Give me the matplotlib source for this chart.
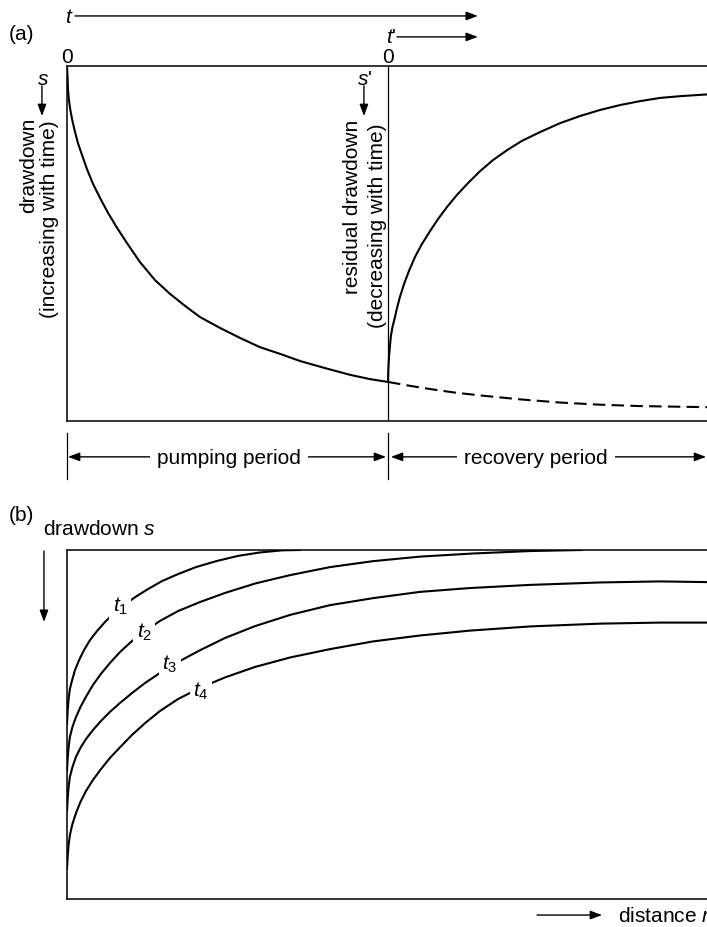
import matplotlib.pyplot as plt

plt.rcParams['font.family'] = ['Liberation Sans', 'DejaVu Sans']
plt.rcParams['mathtext.fontset'] = 'custom'
plt.rcParams['mathtext.rm'] = 'Liberation Sans'
plt.rcParams['mathtext.it'] = 'Liberation Sans:italic'

W, H = 707, 928
FS = 15

# (a) drawdown while pumping; time in units of the pumping period, s normalised
t_pump = [0.0, 0.002, 0.003, 0.006, 0.011, 0.017, 0.025, 0.034, 0.047,
          0.062, 0.081, 0.103, 0.128, 0.156, 0.187, 0.227, 0.274, 0.321,
          0.368, 0.414, 0.477, 0.539, 0.601, 0.664, 0.726, 0.804, 0.882,
          0.944, 1.0]
s_pump = [0.0, 0.037, 0.065, 0.096, 0.127, 0.155, 0.186, 0.217, 0.251,
          0.290, 0.332, 0.372, 0.414, 0.456, 0.499, 0.552, 0.603, 0.642,
          0.676, 0.707, 0.738, 0.766, 0.792, 0.811, 0.831, 0.851, 0.870,
          0.882, 0.890]

# drawdown had the pump kept running
t_cont = [1.0, 1.069, 1.131, 1.209, 1.287, 1.411, 1.536, 1.660, 1.785,
          1.994, 2.05]
s_cont = [0.890, 0.901, 0.910, 0.920, 0.928, 0.939, 0.948, 0.954, 0.958,
          0.961, 0.961]

# residual drawdown after the pump stops, t' counted from the stop
t_rec = [0.0, 0.001, 0.003, 0.006, 0.009, 0.014, 0.021, 0.028, 0.037,
         0.050, 0.065, 0.084, 0.106, 0.131, 0.156, 0.184, 0.215, 0.249,
         0.287, 0.327, 0.371, 0.417, 0.474, 0.536, 0.598, 0.660, 0.723,
         0.785, 0.847, 0.910, 0.994, 1.050]
s_rec = [0.890, 0.854, 0.820, 0.789, 0.761, 0.735, 0.710, 0.682, 0.651,
         0.614, 0.578, 0.538, 0.501, 0.465, 0.431, 0.397, 0.363, 0.330,
         0.296, 0.265, 0.237, 0.211, 0.186, 0.161, 0.141, 0.124, 0.110,
         0.099, 0.090, 0.085, 0.080, 0.079]

# (b) drawdown against distance at four times t1 < t2 < t3 < t4
r_t1 = [0.0, 0.002, 0.005, 0.009, 0.016, 0.025, 0.038, 0.053, 0.072,
        0.094, 0.119, 0.147, 0.178, 0.213, 0.253, 0.297, 0.347, 0.403,
        0.466, 0.534, 0.603, 0.672, 0.728]
s_t1 = [0.499, 0.461, 0.427, 0.398, 0.373, 0.344, 0.315, 0.287, 0.258,
        0.232, 0.206, 0.181, 0.158, 0.135, 0.112, 0.089, 0.069, 0.049,
        0.032, 0.017, 0.007, 0.001, 0.0]

r_t2 = [0.0, 0.002, 0.005, 0.009, 0.017, 0.028, 0.042, 0.059, 0.081,
        0.106, 0.134, 0.166, 0.203, 0.244, 0.291, 0.347, 0.416, 0.494,
        0.588, 0.697, 0.822, 0.956, 1.103, 1.269, 1.447, 1.609]
s_t2 = [0.633, 0.599, 0.565, 0.536, 0.507, 0.479, 0.450, 0.421, 0.387,
        0.355, 0.324, 0.292, 0.261, 0.232, 0.203, 0.175, 0.149, 0.123,
        0.096, 0.072, 0.049, 0.032, 0.019, 0.010, 0.003, 0.0]

r_t3 = [0.0, 0.002, 0.005, 0.009, 0.017, 0.028, 0.042, 0.059, 0.081,
        0.106, 0.134, 0.166, 0.203, 0.244, 0.291, 0.347, 0.416, 0.494,
        0.588, 0.697, 0.822, 0.956, 1.103, 1.259, 1.447, 1.666, 1.853,
        2.0, 2.056]
s_t3 = [0.748, 0.714, 0.679, 0.650, 0.622, 0.593, 0.567, 0.542, 0.516,
        0.490, 0.464, 0.438, 0.410, 0.381, 0.352, 0.321, 0.287, 0.252,
        0.218, 0.186, 0.158, 0.138, 0.120, 0.109, 0.100, 0.093, 0.090,
        0.092, 0.092]

r_t4 = [0.0, 0.002, 0.005, 0.009, 0.017, 0.028, 0.042, 0.059, 0.081,
        0.106, 0.134, 0.166, 0.203, 0.244, 0.291, 0.347, 0.416, 0.494,
        0.588, 0.697, 0.822, 0.956, 1.103, 1.259, 1.447, 1.666, 1.853,
        2.0, 2.056]
s_t4 = [0.914, 0.880, 0.845, 0.817, 0.785, 0.754, 0.722, 0.691, 0.659,
        0.628, 0.596, 0.565, 0.530, 0.496, 0.461, 0.427, 0.395, 0.365,
        0.335, 0.308, 0.284, 0.262, 0.245, 0.231, 0.219, 0.211, 0.208,
        0.208, 0.209]

curve_names = ['$t_1$', '$t_2$', '$t_3$', '$t_4$']
name_r = [0.166, 0.241, 0.322, 0.419]
name_s = [0.160, 0.232, 0.324, 0.401]


def arrow(ax, start, end, lw=1.0):
    ax.annotate('', xy=end, xytext=start, annotation_clip=False,
                arrowprops=dict(arrowstyle='-|>,head_length=0.35,head_width=0.13',
                                mutation_scale=20, lw=lw, color='k',
                                shrinkA=0, shrinkB=0))


def frame(ax):
    ax.set_xticks([])
    ax.set_yticks([])
    ax.spines['right'].set_visible(False)
    for side in ['top', 'left', 'bottom']:
        ax.spines[side].set_linewidth(1.1)


fig = plt.figure(figsize=(W / 100, H / 100), dpi=100)

# ---- (a) pumping and recovery ----
ax_a = fig.add_axes([67 / W, 1 - 422 / H, (710 - 67) / W, 355 / H])
ax_a.set_xlim(0, (710 - 67) / 321)
ax_a.set_ylim(1, 0)
frame(ax_a)

t_stop = t_pump[-1]
ax_a.plot(t_pump, s_pump, color='k', lw=1.5)
ax_a.plot(t_cont, s_cont, color='k', lw=1.5, dashes=(6, 3))
ax_a.plot([t_stop + t for t in t_rec], s_rec, color='k', lw=1.5)
ax_a.axvline(t_stop, color='k', lw=0.9)

fig.text(21 / W, 1 - 35 / H, '(a)', fontsize=FS, ha='center', va='center')

# time axes above the frame
ax_a.text(0.006, -0.124, '$t$', fontsize=FS, ha='center', va='baseline')
arrow(ax_a, (0.025, -0.141), (1.280, -0.141))
ax_a.text(t_stop + 0.009, -0.068, "$t$'", fontsize=FS, ha='center', va='baseline')
arrow(ax_a, (t_stop + 0.028, -0.082), (1.280, -0.082))
ax_a.text(0.0, -0.011, '0', fontsize=FS, ha='center', va='baseline')
ax_a.text(t_stop, -0.011, '0', fontsize=FS, ha='center', va='baseline')

# drawdown labels
ax_a.text(-0.075, 0.051, '$s$', fontsize=FS, ha='center', va='baseline')
arrow(ax_a, (-0.078, 0.056), (-0.078, 0.141))
ax_a.text(-0.121, 0.144, 'drawdown', fontsize=FS, rotation=90,
          ha='center', va='top')
ax_a.text(-0.053, 0.149, '(increasing with time)', fontsize=FS, rotation=90,
          ha='center', va='top')

ax_a.text(0.928, 0.051, "$s$'", fontsize=FS, ha='center', va='baseline')
arrow(ax_a, (0.925, 0.056), (0.925, 0.141))
ax_a.text(0.888, 0.149, 'residual drawdown', fontsize=FS, rotation=90,
          ha='center', va='top')
ax_a.text(0.966, 0.158, '(decreasing with time)', fontsize=FS, rotation=90,
          ha='center', va='top')

# period brackets under the frame
for tx in [0.0, t_stop]:
    ax_a.plot([tx, tx], [1.034, 1.163], color='k', lw=0.9, clip_on=False)

box = dict(boxstyle='square,pad=0.35', fc='white', ec='none')
for a, b, mid, name in [(0.003, 0.994, 0.505, 'pumping period'),
                        (1.009, 1.991, 1.461, 'recovery period')]:
    arrow(ax_a, ((a + b) / 2, 1.101), (a, 1.101))
    arrow(ax_a, ((a + b) / 2, 1.101), (b, 1.101))
    ax_a.text(mid, 1.118, name, fontsize=FS, ha='center', va='baseline',
              bbox=box, zorder=5)

# ---- (b) drawdown against distance ----
ax_b = fig.add_axes([67 / W, 1 - 900 / H, (710 - 67) / W, 349 / H])
ax_b.set_xlim(0, (710 - 67) / 320)
ax_b.set_ylim(1, 0)
frame(ax_b)

for r, s in [(r_t1, s_t1), (r_t2, s_t2), (r_t3, s_t3), (r_t4, s_t4)]:
    ax_b.plot(r, s, color='k', lw=1.5)

small_box = dict(boxstyle='square,pad=0.15', fc='white', ec='none')
for name, r, s in zip(curve_names, name_r, name_s):
    ax_b.text(r, s, name, fontsize=FS, ha='center', va='center',
              bbox=small_box, zorder=5)

fig.text(21 / W, 1 - 516 / H, '(b)', fontsize=FS, ha='center', va='center')
ax_b.text(-0.075, -0.046, 'drawdown $s$', fontsize=FS, ha='left', va='baseline')
arrow(ax_b, (-0.072, 0.003), (-0.072, 0.206))

arrow(ax_b, (1.469, 1.046), (1.672, 1.046))
ax_b.text(1.722, 1.063, 'distance $r$', fontsize=FS, ha='left', va='baseline')

fig.savefig('out.png', dpi=100)
